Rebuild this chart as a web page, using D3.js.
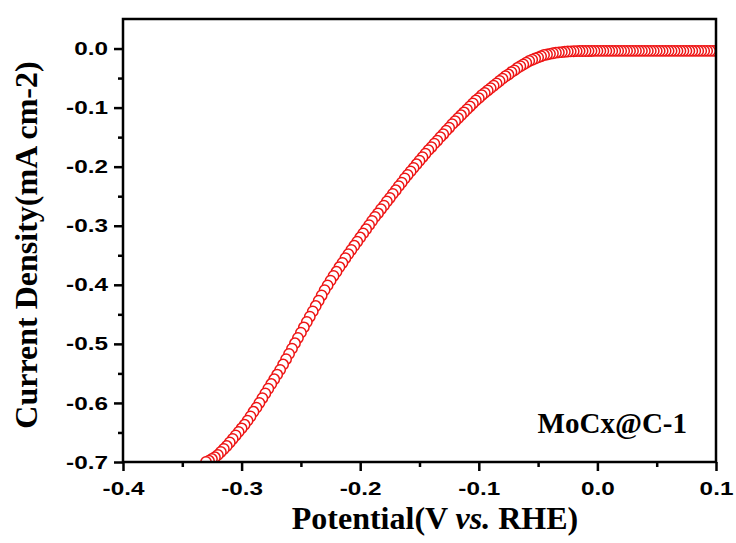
<!DOCTYPE html>
<html>
<head>
<meta charset="utf-8">
<script src="https://cdn.jsdelivr.net/npm/d3@7"></script>
<style>
  html, body { margin: 0; padding: 0; background: #fff; }
</style>
</head>
<body>
<div id="chart"></div>
<script>
// LSV scan, potential (V vs. RHE) and current density (mA cm-2)
const potential = [
  -0.33,-0.3275,-0.325,-0.3225,-0.32,-0.3175,-0.315,-0.3125,-0.31,-0.3075,
  -0.305,-0.3025,-0.3,-0.2975,-0.295,-0.2925,-0.29,-0.2875,-0.285,-0.2825,
  -0.28,-0.2775,-0.275,-0.2725,-0.27,-0.2675,-0.265,-0.2625,-0.26,-0.2575,
  -0.255,-0.2525,-0.25,-0.2475,-0.245,-0.2425,-0.24,-0.2375,-0.235,-0.2325,
  -0.23,-0.2275,-0.225,-0.2225,-0.22,-0.2175,-0.215,-0.2125,-0.21,-0.2075,
  -0.205,-0.2025,-0.2,-0.1975,-0.195,-0.1925,-0.19,-0.1875,-0.185,-0.1825,
  -0.18,-0.1775,-0.175,-0.1725,-0.17,-0.1675,-0.165,-0.1625,-0.16,-0.1575,
  -0.155,-0.1525,-0.15,-0.1475,-0.145,-0.1425,-0.14,-0.1375,-0.135,-0.1325,
  -0.13,-0.1275,-0.125,-0.1225,-0.12,-0.1175,-0.115,-0.1125,-0.11,-0.1075,
  -0.105,-0.1025,-0.1,-0.0975,-0.095,-0.0925,-0.09,-0.0875,-0.085,-0.0825,
  -0.08,-0.0775,-0.075,-0.0725,-0.07,-0.0675,-0.065,-0.0625,-0.06,-0.0575,
  -0.055,-0.0525,-0.05,-0.0475,-0.045,-0.0425,-0.04,-0.0375,-0.035,-0.0325,
  -0.03,-0.0275,-0.025,-0.0225,-0.02,-0.0175,-0.015,-0.0125,-0.01,-0.0075,
  -0.005,-0.0025,0,0.0025,0.005,0.0075,0.01,0.0125,0.015,0.0175,
  0.02,0.0225,0.025,0.0275,0.03,0.0325,0.035,0.0375,0.04,0.0425,
  0.045,0.0475,0.05,0.0525,0.055,0.0575,0.06,0.0625,0.065,0.0675,
  0.07,0.0725,0.075,0.0775,0.08,0.0825,0.085,0.0875,0.09,0.0925,
  0.095,0.0975,0.1
];
const current = [
  -0.700,-0.698,-0.695,-0.692,-0.688,-0.683,-0.678,-0.673,-0.667,-0.661,
  -0.655,-0.649,-0.643,-0.637,-0.630,-0.623,-0.615,-0.608,-0.600,-0.592,
  -0.584,-0.576,-0.568,-0.560,-0.552,-0.544,-0.535,-0.526,-0.517,-0.508,
  -0.499,-0.490,-0.481,-0.472,-0.463,-0.454,-0.445,-0.436,-0.427,-0.418,
  -0.409,-0.401,-0.393,-0.385,-0.378,-0.370,-0.363,-0.355,-0.348,-0.341,
  -0.334,-0.327,-0.320,-0.313,-0.306,-0.299,-0.292,-0.285,-0.279,-0.272,
  -0.266,-0.259,-0.253,-0.246,-0.240,-0.233,-0.227,-0.220,-0.214,-0.208,
  -0.202,-0.196,-0.190,-0.184,-0.178,-0.172,-0.167,-0.161,-0.156,-0.150,
  -0.145,-0.139,-0.134,-0.128,-0.123,-0.118,-0.113,-0.108,-0.103,-0.098,
  -0.093,-0.088,-0.084,-0.079,-0.075,-0.071,-0.067,-0.063,-0.059,-0.055,
  -0.051,-0.047,-0.044,-0.040,-0.037,-0.033,-0.030,-0.027,-0.024,-0.021,
  -0.019,-0.017,-0.015,-0.013,-0.011,-0.010,-0.009,-0.008,-0.007,-0.0065,
  -0.006,-0.0055,-0.005,-0.0048,-0.0045,-0.0044,-0.0043,-0.0042,-0.0042,-0.0041,
  -0.0041,-0.0040,-0.0040,-0.0040,-0.0040,-0.0040,-0.0040,-0.0040,-0.0040,-0.0040,
  -0.004,-0.004,-0.004,-0.004,-0.004,-0.004,-0.004,-0.004,-0.004,-0.004,
  -0.004,-0.004,-0.004,-0.004,-0.004,-0.004,-0.004,-0.004,-0.004,-0.004,
  -0.004,-0.004,-0.004,-0.004,-0.004,-0.004,-0.004,-0.004,-0.004,-0.004,
  -0.004,-0.004,-0.004
];

const xTicks = [-0.4, -0.3, -0.2, -0.1, 0.0, 0.1];
const xMinor = [-0.35, -0.25, -0.15, -0.05, 0.05];
const yTicks = [0.0, -0.1, -0.2, -0.3, -0.4, -0.5, -0.6, -0.7];
const yMinor = [-0.05, -0.15, -0.25, -0.35, -0.45, -0.55, -0.65];
const sampleName = 'MoCx@C-1';

const width = 736, height = 543;
const margin = {top: 19, right: 20, bottom: 81, left: 123};
const innerW = width - margin.left - margin.right;
const innerH = height - margin.top - margin.bottom;

const x = d3.scaleLinear().domain([-0.4, 0.1]).range([0, innerW]);
const y = d3.scaleLinear().domain([-0.7, 0.05]).range([innerH, 0]);

const svg = d3.select('#chart').append('svg')
    .attr('width', width)
    .attr('height', height);

const g = svg.append('g')
    .attr('transform', `translate(${margin.left},${margin.top})`);

g.append('clipPath').attr('id', 'plot-clip')
  .append('rect')
    .attr('width', innerW)
    .attr('height', innerH);

// scan went from positive to negative, so the last point ends up on top
const points = potential.map((p, i) => ({p, j: current[i]})).reverse();

g.append('g')
    .attr('clip-path', 'url(#plot-clip)')
  .selectAll('circle')
  .data(points)
  .join('circle')
    .attr('cx', d => x(d.p))
    .attr('cy', d => y(d.j))
    .attr('r', 5.2)
    .attr('fill', '#fff')
    .attr('stroke', '#ee1515')
    .attr('stroke-width', 1.5);

// frame
g.append('rect')
    .attr('width', innerW)
    .attr('height', innerH)
    .attr('fill', 'none')
    .attr('stroke', '#000')
    .attr('stroke-width', 2.5);

const labelScale = 1.28;
const fmt = d => d.toFixed(1);

function styleAxis(sel) {
  sel.select('.domain').remove();
  sel.selectAll('line').attr('stroke', '#000').attr('stroke-width', 2.5);
}

const xAxis = g.append('g')
    .attr('transform', `translate(0,${innerH})`)
    .call(d3.axisBottom(x).tickValues(xTicks).tickSize(9).tickFormat(fmt))
    .call(styleAxis);
xAxis.selectAll('text')
    .attr('y', 33).attr('dy', null)
    .attr('transform', `scale(${labelScale},1)`);

g.append('g')
    .attr('transform', `translate(0,${innerH})`)
    .call(d3.axisBottom(x).tickValues(xMinor).tickSize(5).tickFormat(''))
    .call(styleAxis);

const yAxis = g.append('g')
    .call(d3.axisLeft(y).tickValues(yTicks).tickSize(9).tickFormat(fmt))
    .call(styleAxis);
yAxis.selectAll('text')
    .attr('x', -15 / labelScale)
    .attr('transform', `scale(${labelScale},1)`);

g.append('g')
    .call(d3.axisLeft(y).tickValues(yMinor).tickSize(5).tickFormat(''))
    .call(styleAxis);

g.selectAll('.tick text')
    .attr('fill', '#000')
    .style('font', 'bold 19px "Liberation Sans", Arial, sans-serif');

// axis titles
const serif = '"Liberation Serif", "Times New Roman", serif';

const xTitle = svg.append('text')
    .attr('x', 435)
    .attr('y', 529)
    .attr('text-anchor', 'middle')
    .style('font', `bold 32px ${serif}`);
xTitle.append('tspan').text('Potential(V ');
xTitle.append('tspan').style('font-style', 'italic').text('vs.');
xTitle.append('tspan').text(' RHE)');

svg.append('text')
    .attr('transform', `translate(37,245) rotate(-90)`)
    .attr('text-anchor', 'middle')
    .style('font', `bold 32px ${serif}`)
    .text('Current Density(mA cm-2)');

svg.append('text')
    .attr('x', 687)
    .attr('y', 433)
    .attr('text-anchor', 'end')
    .style('font', `bold 29px ${serif}`)
    .text(sampleName);
</script>
</body>
</html>
